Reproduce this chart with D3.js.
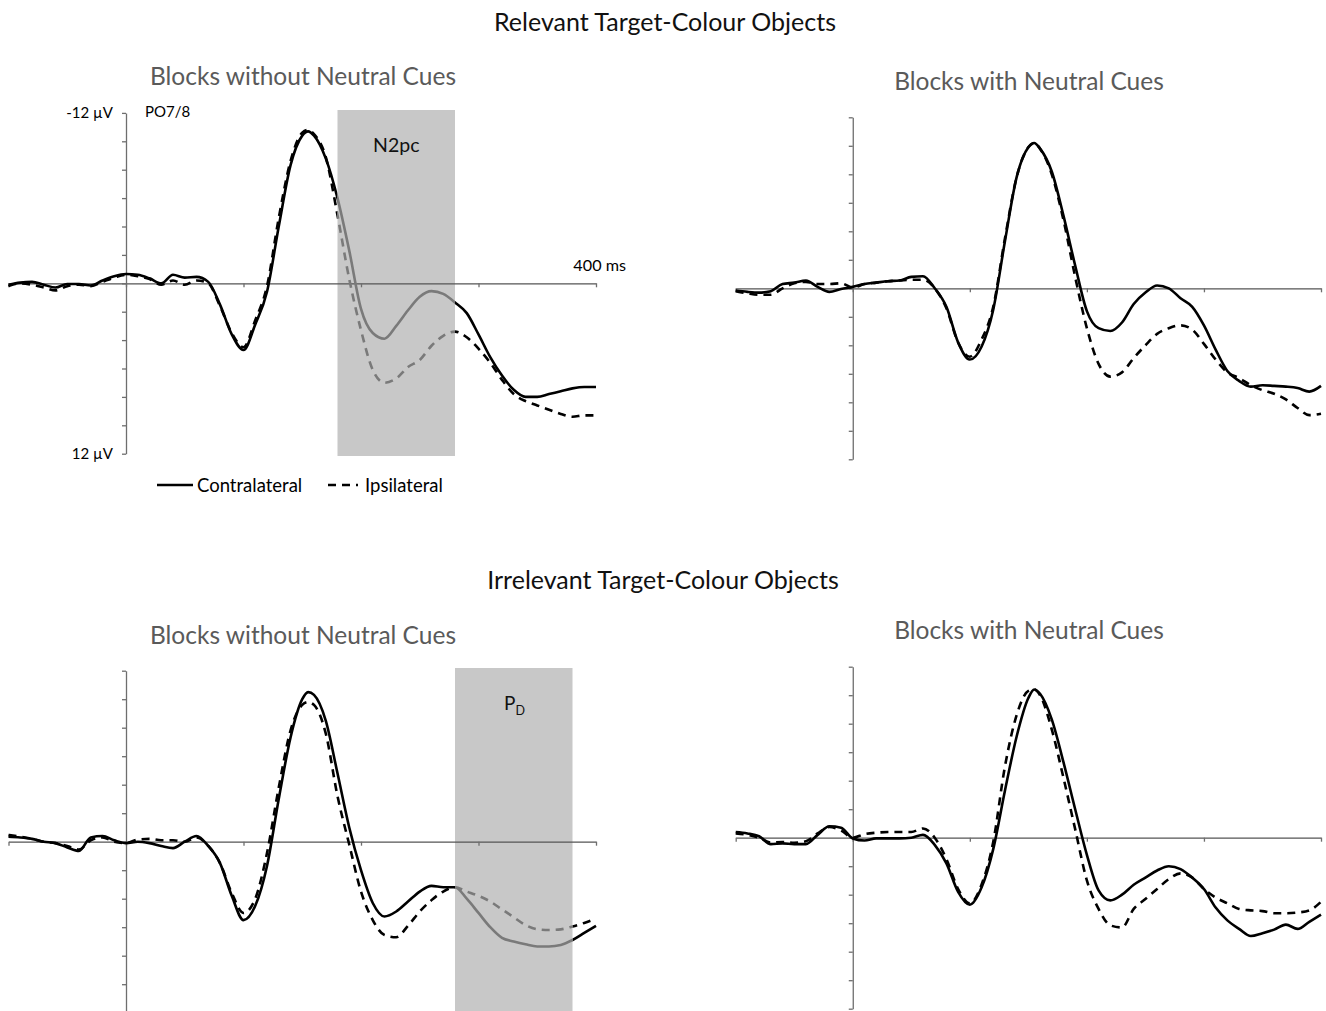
<!DOCTYPE html>
<html>
<head>
<meta charset="utf-8">
<script src="https://cdn.jsdelivr.net/npm/d3@7"></script>
<style>
  html, body { margin: 0; padding: 0; background: #fff; }
  svg { display: block; }
  text { font-family: Lato, "Open Sans", sans-serif; }
</style>
</head>
<body>
<svg id="chart" width="1326" height="1011"></svg>
<script>
// ---- Data: grand-average ERPs at PO7/8 (µV), time in ms relative to onset ----
const timesMs = [-100,-90,-80,-70,-60,-50,-40,-30,-20,-10,0,10,20,30,40,50,60,70,80,90,100,110,120,130,140,150,155,160,170,180,190,200,210,220,230,240,250,260,270,280,290,300,310,320,330,340,350,360,370,380,390,400];

const relevantNoCueContra = [0.1,-0.05,-0.1,0.1,0.3,0.05,0.05,0.15,-0.2,-0.5,-0.65,-0.6,-0.35,0,-0.6,-0.4,-0.45,-0.1,1.5,3.6,4.7,2.9,0.6,-4.0,-8.3,-10.4,-10.7,-10.4,-8.8,-6.0,-2.3,1.8,3.5,3.9,3.0,1.9,0.95,0.55,0.75,1.35,2.1,3.6,5.2,6.5,7.5,8.0,8.0,7.8,7.6,7.4,7.3,7.3];
const relevantNoCueIpsi   = [0.2,0.0,0.1,0.3,0.5,0.2,0.1,0.2,-0.1,-0.4,-0.6,-0.5,-0.3,0.1,-0.2,0.1,-0.2,0.0,1.6,3.5,4.5,2.6,0.2,-4.6,-8.6,-10.6,-10.8,-10.5,-8.9,-4.8,-0.3,3.3,6.1,7.0,6.7,5.9,5.4,4.4,3.7,3.4,3.8,4.6,5.6,6.8,7.8,8.3,8.6,8.9,9.2,9.4,9.3,9.3];

const relevantCueContra   = [0.16,0.25,0.3,0.2,-0.3,-0.4,-0.55,-0.1,0.25,0.05,-0.1,-0.3,-0.4,-0.5,-0.55,-0.8,-0.85,0.0,1.3,3.8,5.0,4.1,1.5,-3.3,-7.8,-9.9,-10.2,-9.8,-8.2,-5.1,-1.6,1.6,2.8,3.0,2.4,1.1,0.3,-0.2,0.0,0.7,1.3,2.6,4.3,5.8,6.5,6.9,6.8,6.85,6.9,7.0,7.25,6.85];
const relevantCueIpsi     = [0.2,0.35,0.45,0.45,0.0,-0.35,-0.45,-0.3,-0.3,-0.35,-0.05,-0.3,-0.4,-0.5,-0.55,-0.6,-0.6,0.0,1.4,3.8,4.8,3.6,1.3,-3.5,-7.8,-9.9,-10.2,-9.8,-8.0,-4.8,-0.8,2.8,5.3,6.2,5.9,4.9,4.0,3.2,2.8,2.6,2.9,3.9,5.0,5.9,6.3,6.8,7.15,7.4,7.8,8.4,8.9,8.8];

const irrelevantNoCueContra = [-0.35,-0.3,-0.2,0.0,0.1,0.4,0.65,-0.3,-0.4,-0.1,0.1,0.0,0.1,0.3,0.45,0.0,-0.4,0.3,1.5,3.8,5.5,4.5,1.7,-3.0,-7.3,-10.0,-10.5,-10.3,-8.5,-4.8,-1.0,2.0,4.3,5.25,4.9,4.2,3.5,3.1,3.2,3.2,4.0,5.0,6.0,6.75,7.0,7.2,7.35,7.35,7.25,6.9,6.4,5.9];
const irrelevantNoCueIpsi   = [-0.47,-0.35,-0.2,0.0,0.1,0.3,0.55,-0.1,-0.3,0.0,0.1,-0.15,-0.2,-0.1,-0.1,0.0,-0.3,0.3,1.5,3.6,5.0,4.0,0.8,-3.8,-7.8,-9.6,-9.8,-9.6,-7.6,-3.2,0.2,3.5,5.5,6.55,6.7,5.9,4.9,4.1,3.5,3.2,3.5,3.8,4.2,4.75,5.3,5.85,6.15,6.2,6.15,5.95,5.7,5.4];

const irrelevantCueContra   = [-0.4,-0.3,-0.1,0.45,0.4,0.45,0.45,-0.2,-0.8,-0.7,0.05,0.2,0.05,0.05,0.05,0.0,-0.2,0.5,1.8,3.8,4.7,3.5,0.8,-3.3,-7.1,-9.8,-10.4,-10.1,-8.3,-5.3,-2.0,1.2,3.7,4.4,4.0,3.3,2.8,2.3,2.0,2.2,2.8,3.6,4.9,5.8,6.4,6.9,6.7,6.45,6.1,6.4,5.9,5.4];
const irrelevantCueIpsi     = [-0.3,-0.2,0.0,0.35,0.3,0.35,0.25,-0.3,-0.75,-0.5,0.0,-0.25,-0.35,-0.4,-0.4,-0.4,-0.65,0.0,1.5,3.6,4.6,3.3,0.3,-5.0,-8.6,-10.3,-10.4,-10.0,-7.6,-4.2,-0.6,3.0,5.0,6.15,6.3,5.0,4.3,3.6,2.9,2.5,2.8,3.6,4.2,4.6,5.0,5.1,5.15,5.3,5.3,5.25,5.1,4.5];

// Axis ticks and windows
const timeTicks = [-100, 0, 100, 200, 300, 400];
const voltTicks = [-12, -10, -8, -6, -4, -2, 0, 2, 4, 6, 8, 10, 12];
const n2pcWindow = [180, 280];
const pdWindow = [280, 380];

const sectionTitles = ["Relevant Target-Colour Objects", "Irrelevant Target-Colour Objects"];
const panelTitles = ["Blocks without Neutral Cues", "Blocks with Neutral Cues"];
const legendLabels = ["Contralateral", "Ipsilateral"];

// ---- Layout ----
const svg = d3.select("#chart");
const INK = "#000";
const AXIS = "#6e6e6e";
const SHADE = "#c8c8c8";
const SHADED_INK = "#7a7a7a";

const panels = [
  { id: "p1", x0: 8.5, x1: 596, yTop: 112.9, yBot: 453.7, contra: relevantNoCueContra, ipsi: relevantNoCueIpsi, win: n2pcWindow, winTop: 110, winBot: 456 },
  { id: "p2", x0: 735.7, x1: 1321, yTop: 117.3, yBot: 459.3, contra: relevantCueContra, ipsi: relevantCueIpsi },
  { id: "p3", x0: 8.5, x1: 596, yTop: 670.7, yBot: 1012.7, contra: irrelevantNoCueContra, ipsi: irrelevantNoCueIpsi, win: pdWindow, winTop: 668, winBot: 1011 },
  { id: "p4", x0: 735.7, x1: 1321, yTop: 666.7, yBot: 1008.7, contra: irrelevantCueContra, ipsi: irrelevantCueIpsi }
];

const defs = svg.append("defs");

panels.forEach(p => {
  const x = d3.scaleLinear().domain([-100, 400]).range([p.x0, p.x1]);
  // negative up, as is conventional for ERP plots
  const y = d3.scaleLinear().domain([-12, 12]).range([p.yTop, p.yBot]);
  const g = svg.append("g").attr("class", "panel " + p.id);

  // component window
  if (p.win) {
    g.append("rect")
      .attr("x", x(p.win[0])).attr("y", p.winTop)
      .attr("width", x(p.win[1]) - x(p.win[0]))
      .attr("height", p.winBot - p.winTop)
      .attr("fill", SHADE);
    defs.append("clipPath").attr("id", p.id + "-in")
      .append("rect")
      .attr("x", x(p.win[0])).attr("y", 0)
      .attr("width", x(p.win[1]) - x(p.win[0])).attr("height", 1011);
    defs.append("clipPath").attr("id", p.id + "-out")
      .append("path")
      .attr("d", `M0,0H${x(p.win[0])}V1011H0Z M${x(p.win[1])},0H1326V1011H${x(p.win[1])}Z`);
  }

  // axes through the origin
  const xAxis = d3.axisBottom(x).tickValues(timeTicks).tickSize(4).tickSizeOuter(0).tickFormat("");
  const yAxis = d3.axisLeft(y).tickValues(voltTicks).tickSize(4).tickSizeOuter(0).tickFormat("");
  const gx = g.append("g").attr("transform", `translate(0,${y(0)})`).call(xAxis);
  const gy = g.append("g").attr("transform", `translate(${x(0)},0)`).call(yAxis);
  [gx, gy].forEach(a => {
    a.selectAll("path, line").attr("stroke", AXIS).attr("stroke-width", 1.3);
  });
  gx.select(".domain").attr("stroke", "#555");

  const line = d3.line()
    .x((d, i) => x(timesMs[i]))
    .y(d => y(d))
    .curve(d3.curveMonotoneX);

  const series = [
    { values: p.contra, dash: null },
    { values: p.ipsi, dash: "8,6" }
  ];

  series.forEach(s => {
    const base = g.append("path")
      .datum(s.values)
      .attr("d", line)
      .attr("fill", "none")
      .attr("stroke", INK)
      .attr("stroke-width", 2.6)
      .attr("stroke-linejoin", "round")
      .attr("stroke-dasharray", s.dash);
    if (p.win) {
      base.attr("clip-path", `url(#${p.id}-out)`);
      g.append("path")
        .datum(s.values)
        .attr("d", line)
        .attr("fill", "none")
        .attr("stroke", SHADED_INK)
        .attr("stroke-width", 2.6)
        .attr("stroke-linejoin", "round")
        .attr("stroke-dasharray", s.dash)
        .attr("clip-path", `url(#${p.id}-in)`);
    }
  });

  p.xs = x; p.ys = y; p.g = g;
});

// ---- Window labels ----
{
  const p = panels[0];
  p.g.append("text")
    .attr("x", p.xs(d3.mean(n2pcWindow))).attr("y", 152)
    .attr("text-anchor", "middle").attr("font-size", 19.5).attr("fill", "#111")
    .text("N2pc");
}
{
  const p = panels[2];
  const t = p.g.append("text")
    .attr("x", 504).attr("y", 710)
    .attr("font-size", 19).attr("fill", "#111");
  t.append("tspan").text("P");
  t.append("tspan").attr("font-size", 12.5).attr("dy", 5).text("D");
}

// ---- Scale annotations on the first panel ----
{
  const p = panels[0];
  const g = p.g;
  g.append("text").attr("x", 113).attr("y", p.ys(-12) + 5)
    .attr("text-anchor", "end").attr("font-size", 15).text("-12 µV");
  g.append("text").attr("x", 113).attr("y", p.ys(12) + 5)
    .attr("text-anchor", "end").attr("font-size", 15).text("12 µV");
  g.append("text").attr("x", 145).attr("y", p.ys(-12) + 4)
    .attr("font-size", 15).text("PO7/8");
  g.append("text").attr("x", 626).attr("y", p.ys(0) - 12)
    .attr("text-anchor", "end").attr("font-size", 16.2).text("400 ms");

  // legend
  const ly = 485;
  const lg = svg.append("g").attr("class", "legend");
  lg.append("line").attr("x1", 157).attr("x2", 193).attr("y1", ly).attr("y2", ly)
    .attr("stroke", INK).attr("stroke-width", 2.6);
  lg.append("text").attr("x", 197).attr("y", ly + 6.5).attr("font-size", 18.5).text(legendLabels[0]);
  lg.append("line").attr("x1", 328).attr("x2", 358).attr("y1", ly).attr("y2", ly)
    .attr("stroke", INK).attr("stroke-width", 2.6).attr("stroke-dasharray", "8,6");
  lg.append("text").attr("x", 365).attr("y", ly + 6.5).attr("font-size", 18.5).text(legendLabels[1]);
}

// ---- Titles ----
const titleData = [
  { text: sectionTitles[0], x: 665, y: 30.5, size: 25, fill: "#111" },
  { text: sectionTitles[1], x: 663, y: 588.5, size: 25, fill: "#111" },
  { text: panelTitles[0], x: 303, y: 84.5, size: 24.5, fill: "#5a5a5a" },
  { text: panelTitles[1], x: 1029, y: 89.5, size: 24.5, fill: "#5a5a5a" },
  { text: panelTitles[0], x: 303, y: 643.5, size: 24.5, fill: "#5a5a5a" },
  { text: panelTitles[1], x: 1029, y: 638.5, size: 24.5, fill: "#5a5a5a" }
];
svg.append("g").selectAll("text").data(titleData).join("text")
  .attr("x", d => d.x).attr("y", d => d.y)
  .attr("text-anchor", "middle")
  .attr("font-size", d => d.size)
  .attr("fill", d => d.fill)
  .text(d => d.text);
</script>
</body>
</html>
